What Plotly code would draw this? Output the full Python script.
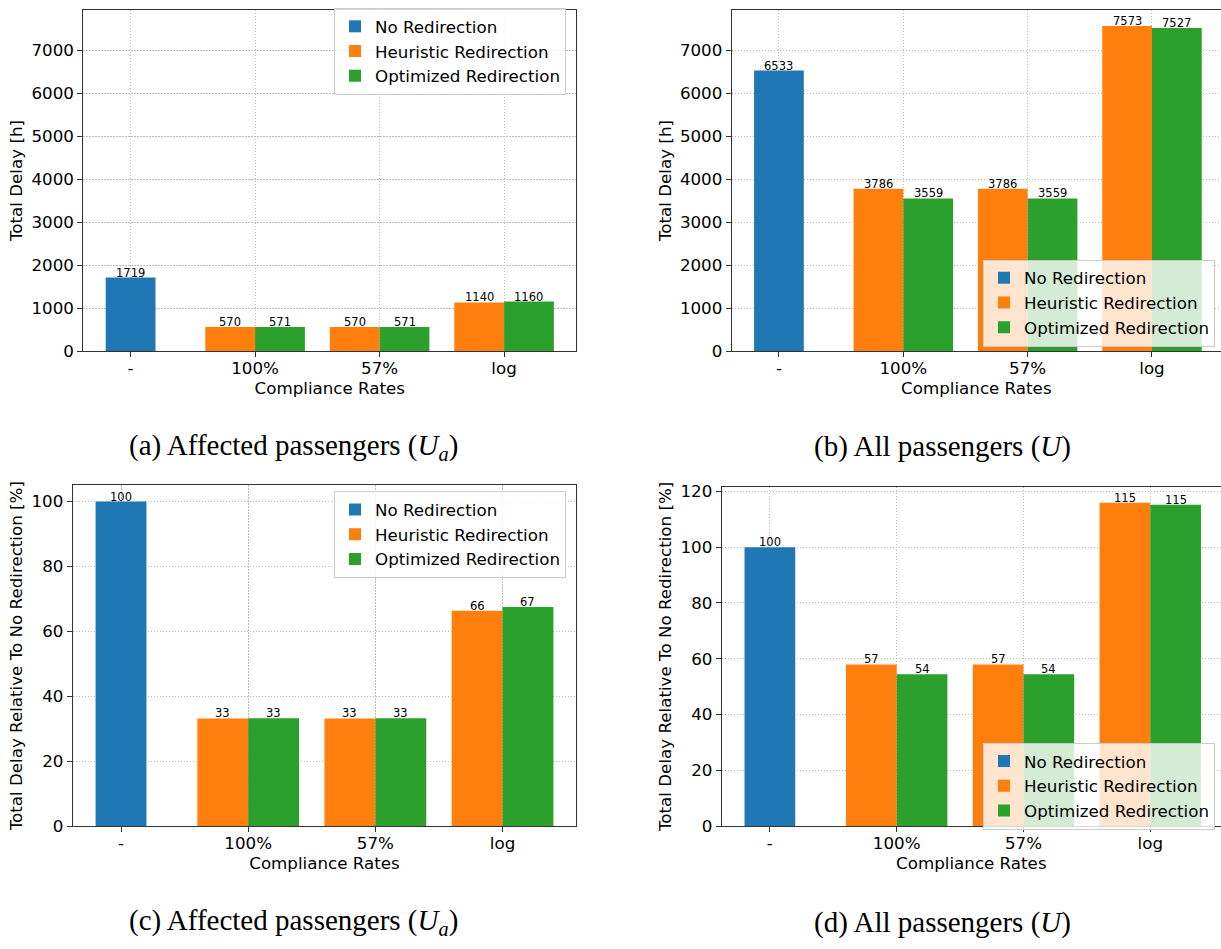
import plotly.graph_objects as go

# ---------------- data ----------------
categories = ["-", "100%", "57%", "log"]
series_names = ["No Redirection", "Heuristic Redirection", "Optimized Redirection"]
series_colors = ["#1f77b4", "#ff7f0e", "#2ca02c"]

# (a) affected passengers, total delay [h]
affected_none = [1719]
affected_heur = [570, 570, 1140]
affected_opt = [571, 571, 1160]

# (b) all passengers, total delay [h]
all_none = [6533]
all_heur = [3786, 3786, 7573]
all_opt = [3559, 3559, 7527]

# (c) affected passengers, relative to no redirection [%]
rel_affected_none = [100]
rel_affected_heur = [33.16, 33.16, 66.32]
rel_affected_opt = [33.22, 33.22, 67.48]

# (d) all passengers, relative to no redirection [%]
rel_all_none = [100]
rel_all_heur = [57.95, 57.95, 115.92]
rel_all_opt = [54.48, 54.48, 115.21]

captions = [
    "(a) Affected passengers (<i>U<sub>a</sub></i>)",
    "(b) All passengers (<i>U</i>)",
    "(c) Affected passengers (<i>U<sub>a</sub></i>)",
    "(d) All passengers (<i>U</i>)",
]
y_titles = ["Total Delay [h]", "Total Delay [h]",
            "Total Delay Relative To No Redirection [%]",
            "Total Delay Relative To No Redirection [%]"]
x_title = "Compliance Rates"

panels = [
    (affected_none, affected_heur, affected_opt),
    (all_none, all_heur, all_opt),
    (rel_affected_none, rel_affected_heur, rel_affected_opt),
    (rel_all_none, rel_all_heur, rel_all_opt),
]

# ---------------- layout geometry (pixels) ----------------
W, H = 1221, 949
FONT = "DejaVu Sans"
BASE = 16.7
BAR_W = 0.4

# plot area pixel boxes: (left, right, top, bottom)
boxes = [
    (83.3, 576.3, 4.7, 352.0),
    (731.7, 1221.0, 4.7, 352.0),
    (72.7, 576.3, 488.0, 834.3),
    (721.7, 1221.0, 489.3, 834.3),
]
x_ranges = [[-0.38, 3.58], [-0.38, 3.555], [-0.38, 3.58], [-0.38, 3.558]]
top_ymax = max(max(all_heur), max(all_opt), max(all_none),
               max(affected_heur), max(affected_opt), max(affected_none)) * 1.05
y_ranges = [
    [0, top_ymax],
    [0, top_ymax],
    [0, max(rel_affected_none + rel_affected_heur + rel_affected_opt) * 1.05],
    [0, max(rel_all_none + rel_all_heur + rel_all_opt) * 1.05],
]
y_dticks = [1000, 1000, 20, 20]

legend_pos = [
    dict(x=566 / W, y=1 - 3 / H, xanchor="right", yanchor="top"),
    dict(x=1215 / W, y=1 - 347 / H, xanchor="right", yanchor="bottom"),
    dict(x=566 / W, y=1 - 494 / H, xanchor="right", yanchor="top"),
    dict(x=1215 / W, y=1 - 838 / H, xanchor="right", yanchor="bottom"),
]
caption_pos = [(293, 449), (942, 449), (293, 932), (942, 932)]
mirror_y = [True, False, True, False]

GRID = dict(showgrid=True, gridcolor="#bdbdbd", griddash="1.5px,1.5px", gridwidth=0.8)
AXLINE = dict(showline=True, linecolor="#333333", linewidth=1,
              ticks="outside", ticklen=5, tickwidth=1, tickcolor="#333333",
              zeroline=False, layer="above traces", fixedrange=True,
              tickfont=dict(size=BASE))

fig = go.Figure()
layout = dict(
    width=W, height=H,
    margin=dict(l=0, r=0, t=0, b=0),
    paper_bgcolor="white", plot_bgcolor="white",
    font=dict(family=FONT, size=BASE, color="black"),
    barmode="overlay",
    showlegend=True,
    annotations=[],
)

idx = list(range(len(categories)))
for p, (none_v, heur_v, opt_v) in enumerate(panels):
    sfx = "" if p == 0 else str(p + 1)
    xa, ya = "x" + sfx, "y" + sfx
    leg = "legend" + sfx
    specs = [
        (none_v, idx[:1], -BAR_W / 2),
        (heur_v, idx[1:], -BAR_W),
        (opt_v, idx[1:], 0.0),
    ]
    for s, (vals, xs, off) in enumerate(specs):
        fig.add_trace(go.Bar(
            x=xs, y=vals, name=series_names[s],
            marker=dict(color=series_colors[s], line=dict(width=0)),
            width=BAR_W, offset=off,
            xaxis=xa, yaxis=ya, legend=leg, hoverinfo="skip",
        ))
        # value labels on top of each bar (like matplotlib bar_label)
        for xv, v in zip(xs, vals):
            layout["annotations"].append(dict(
                text=str(int(v)), xref=xa, yref=ya,
                x=xv + off + BAR_W / 2, y=v,
                xanchor="center", yanchor="bottom", yshift=-4,
                showarrow=False, font=dict(size=11.5, family=FONT, color="black"),
            ))
    l, r, t, b = boxes[p]
    layout["xaxis" + sfx] = dict(
        domain=[l / W, r / W], anchor=ya, range=x_ranges[p],
        tickmode="array", tickvals=idx, ticktext=categories,
        mirror=True, ticklabelstandoff=-3, **GRID, **AXLINE,
        title=dict(text=x_title, standoff=1, font=dict(size=BASE)),
    )
    layout["yaxis" + sfx] = dict(
        domain=[1 - b / H, 1 - t / H], anchor=xa, range=y_ranges[p],
        dtick=y_dticks[p], tick0=0,
        mirror=mirror_y[p], **GRID, **AXLINE,
        title=dict(text=y_titles[p], standoff=4, font=dict(size=BASE)),
    )
    layout[leg] = dict(
        **legend_pos[p],
        bgcolor="rgba(255,255,255,0.8)", bordercolor="#cccccc", borderwidth=1,
        font=dict(size=BASE, family=FONT, color="black"),
        traceorder="normal", tracegroupgap=0,
    )
    cx, cy = caption_pos[p]
    layout["annotations"].append(dict(
        text=captions[p], xref="paper", yref="paper",
        x=cx / W, y=1 - cy / H, xanchor="center", yanchor="middle",
        showarrow=False, font=dict(family="Liberation Serif", size=29, color="black"),
    ))

fig.update_layout(**layout)
fig.write_html("out.html", config={"displayModeBar": False},
               post_script="document.body.style.margin='0';")
